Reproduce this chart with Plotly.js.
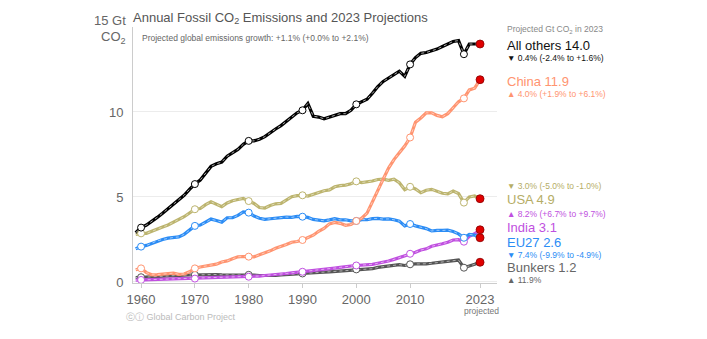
<!DOCTYPE html>
<html><head><meta charset="utf-8">
<script src="https://cdn.plot.ly/plotly-3.0.1.min.js"></script>
<style>html,body{margin:0;padding:0;background:#fff;}#chart{width:707px;height:339px;}</style>
</head><body><div id="chart"></div>
<script>
const years = [];
for (let y = 1959; y <= 2023; y++) years.push(y);

const allOthers = [2.9,3.2,3.35,3.55,3.8,4.05,4.3,4.55,4.8,5.1,5.45,5.76,6.0,6.4,6.8,6.95,7.05,7.4,7.6,7.8,8.1,8.3,8.3,8.4,8.55,8.8,9.0,9.2,9.45,9.7,9.95,10.1,10.5,9.75,9.7,9.6,9.7,9.8,9.9,9.9,10.1,10.45,10.6,10.75,11.1,11.5,11.8,12.0,12.25,12.4,12.1,12.8,13.2,13.45,13.5,13.6,13.7,13.85,14.0,14.15,14.2,13.4,14.0,14.0,14.0];
const china = [0.72,0.80,0.55,0.42,0.43,0.45,0.48,0.52,0.45,0.47,0.6,0.8,0.88,0.94,0.99,1.05,1.18,1.24,1.36,1.48,1.5,1.49,1.48,1.6,1.7,1.83,1.98,2.08,2.2,2.34,2.38,2.47,2.6,2.75,2.98,3.15,3.42,3.5,3.45,3.33,3.38,3.59,3.75,4.05,4.75,5.45,6.05,6.7,7.2,7.6,8.0,8.5,9.4,9.65,9.95,9.95,9.8,9.72,9.9,10.25,10.6,10.8,11.3,11.4,11.9];
const usa = [2.8,2.86,2.86,2.97,3.1,3.23,3.35,3.52,3.65,3.84,4.06,4.28,4.32,4.55,4.72,4.55,4.43,4.65,4.78,4.85,4.92,4.76,4.62,4.38,4.35,4.5,4.6,4.62,4.8,5.02,5.08,5.1,5.05,5.15,5.27,5.37,5.42,5.6,5.67,5.7,5.78,5.92,5.85,5.88,5.94,6.03,6.05,5.98,6.05,5.84,5.43,5.6,5.47,5.25,5.4,5.45,5.32,5.22,5.18,5.35,5.2,4.67,5.0,5.06,4.9];
const eu27 = [1.95,2.08,2.15,2.28,2.42,2.5,2.58,2.62,2.65,2.8,3.05,3.3,3.35,3.5,3.7,3.62,3.52,3.78,3.78,3.92,4.12,4.08,3.88,3.75,3.68,3.72,3.76,3.77,3.82,3.8,3.86,3.84,3.8,3.68,3.62,3.6,3.65,3.72,3.65,3.66,3.6,3.59,3.67,3.66,3.73,3.74,3.7,3.71,3.66,3.58,3.3,3.41,3.3,3.22,3.14,3.0,3.04,3.03,3.05,2.97,2.83,2.6,2.8,2.76,2.6];
const india = [0.11,0.12,0.13,0.14,0.15,0.15,0.17,0.17,0.18,0.19,0.2,0.2,0.21,0.22,0.23,0.24,0.26,0.27,0.29,0.29,0.31,0.31,0.34,0.35,0.38,0.4,0.44,0.47,0.5,0.54,0.57,0.6,0.64,0.67,0.69,0.74,0.79,0.82,0.86,0.88,0.94,0.97,0.98,1.01,1.04,1.1,1.16,1.23,1.33,1.43,1.56,1.66,1.75,1.88,1.95,2.1,2.16,2.25,2.34,2.47,2.49,2.37,2.68,2.84,3.07];
const bunkers = [0.26,0.28,0.29,0.31,0.32,0.34,0.36,0.37,0.39,0.4,0.41,0.42,0.43,0.45,0.47,0.44,0.42,0.42,0.42,0.42,0.44,0.42,0.4,0.38,0.37,0.38,0.39,0.41,0.42,0.45,0.47,0.5,0.53,0.56,0.56,0.58,0.6,0.62,0.65,0.67,0.7,0.74,0.72,0.74,0.78,0.86,0.91,0.95,1.0,1.02,0.97,1.04,1.06,1.05,1.07,1.1,1.14,1.18,1.22,1.26,1.29,0.84,0.92,1.04,1.16];

const tickYears = [1960,1970,1980,1990,2000,2010,2023];
const tickLabels = ['1960','1970','1980','1990','2000','2010','2023'];

const series = [
  {name:'Bunkers', y:bunkers, color:'#555555', dash:'rgba(200,200,200,0.8)'},
  {name:'India', y:india, color:'#c04fe0', dash:'rgba(255,255,255,0.55)'},
  {name:'EU27', y:eu27, color:'#2b8cf5', dash:'rgba(255,255,255,0.55)'},
  {name:'USA', y:usa, color:'#bcb46e', dash:'rgba(255,255,255,0.5)'},
  {name:'China', y:china, color:'#ff9470', dash:'rgba(255,255,255,0.5)'},
  {name:'All others', y:allOthers, color:'#000000', dash:'rgba(190,190,190,0.9)'}
];

const traces = [];
series.forEach(s => {
  traces.push({x:years, y:s.y, type:'scatter', mode:'lines', line:{color:s.color, width:3.2}, hoverinfo:'skip', showlegend:false});
  traces.push({x:years, y:s.y, type:'scatter', mode:'lines', line:{color:s.dash, width:1, dash:'3px,3px'}, hoverinfo:'skip', showlegend:false});
});
series.forEach(s => {
  const dx = [], dy = [];
  years.forEach((yr,i) => { if (yr % 10 === 0) { dx.push(yr); dy.push(s.y[i]); } });
  traces.push({x:dx, y:dy, type:'scatter', mode:'markers', marker:{size:7, color:'#ffffff', line:{color:s.color, width:1}}, showlegend:false});
  const last = years.length - 1;
  traces.push({x:[years[last]], y:[s.y[last]], type:'scatter', mode:'markers', marker:{size:8, color:'#e00000', line:{color:'#8a0000', width:0.8}}, showlegend:false});
});

const L = 133, R = 497, T = 27, B = 283;
function ann(text, xpx, ypx, size, color, xanchor) {
  return {text:text, xref:'paper', yref:'paper', x:(xpx - L)/(R - L), y:(B - ypx)/(B - T),
    xanchor:xanchor || 'left', yanchor:'middle', showarrow:false,
    font:{family:'Liberation Sans, Arial, sans-serif', size:size, color:color}};
}

const annotations = [
  ann('Projected global emissions growth: +1.1% (+0.0% to +2.1%)', 140, 38, 8.5, '#666'),
  ann('15 Gt', 128, 20, 13, '#666', 'right'),
  ann('CO<sub>2</sub>', 128, 37, 13, '#666', 'right'),
  ann('projected', 481, 311, 8.5, '#777', 'center'),
  ann('ⓒⓘ Global Carbon Project', 124, 317, 9, '#bbb'),
  ann('Projected Gt CO<sub>2</sub> in 2023', 505, 29, 8.5, '#888'),
  ann('All others 14.0', 505, 45, 13, '#111'),
  ann('▼ 0.4% (-2.4% to +1.6%)', 505, 58, 8.5, '#111'),
  ann('China 11.9', 505, 81, 13, '#ff9470'),
  ann('▲ 4.0% (+1.9% to +6.1%)', 505, 94, 8.5, '#ff9470'),
  ann('▼ 3.0% (-5.0% to -1.0%)', 505, 186, 8.5, '#b5ad66'),
  ann('USA 4.9', 505, 199, 13, '#b5ad66'),
  ann('▲ 8.2% (+6.7% to +9.7%)', 505, 214, 8.5, '#c04fe0'),
  ann('India 3.1', 505, 227, 13, '#c04fe0'),
  ann('EU27 2.6', 505, 242, 13, '#2b8cf5'),
  ann('▼ 7.4% (-9.9% to -4.9%)', 505, 255, 8.5, '#2b8cf5'),
  ann('Bunkers 1.2', 505, 267, 13, '#666'),
  ann('▲ 11.9%', 505, 280, 8.5, '#666')
];

const layout = {
  width:707, height:339,
  margin:{l:L, r:707-R, t:T, b:339-B, pad:0},
  paper_bgcolor:'#fff', plot_bgcolor:'#fff',
  font:{family:'Liberation Sans, Arial, sans-serif', color:'#666'},
  title:{text:'Annual Fossil CO<sub>2</sub> Emissions and 2023 Projections', x:L/707, xanchor:'left', y:1-17/339, yanchor:'middle', font:{size:13, color:'#555'}},
  xaxis:{range:[1958.5, 2026.15], tickmode:'array', tickvals:tickYears, ticktext:tickLabels, showgrid:false, zeroline:false,
    showline:true, linecolor:'#ccc', linewidth:1, ticks:'outside', ticklen:4, tickcolor:'#ccc', tickfont:{size:13, color:'#666'}, fixedrange:true},
  yaxis:{range:[-0.06, 15], tickmode:'array', tickvals:[0,5,10,15], ticktext:['0','5','10',''], showgrid:true, gridcolor:'#ececec', zeroline:false,
    showline:true, linecolor:'#ccc', linewidth:1, ticks:'', tickfont:{size:13, color:'#666'}, ticklabelstandoff:6, fixedrange:true},
  annotations:annotations,
  showlegend:false
};

Plotly.newPlot('chart', traces, layout, {displayModeBar:false, staticPlot:true});
</script>
</body></html>
